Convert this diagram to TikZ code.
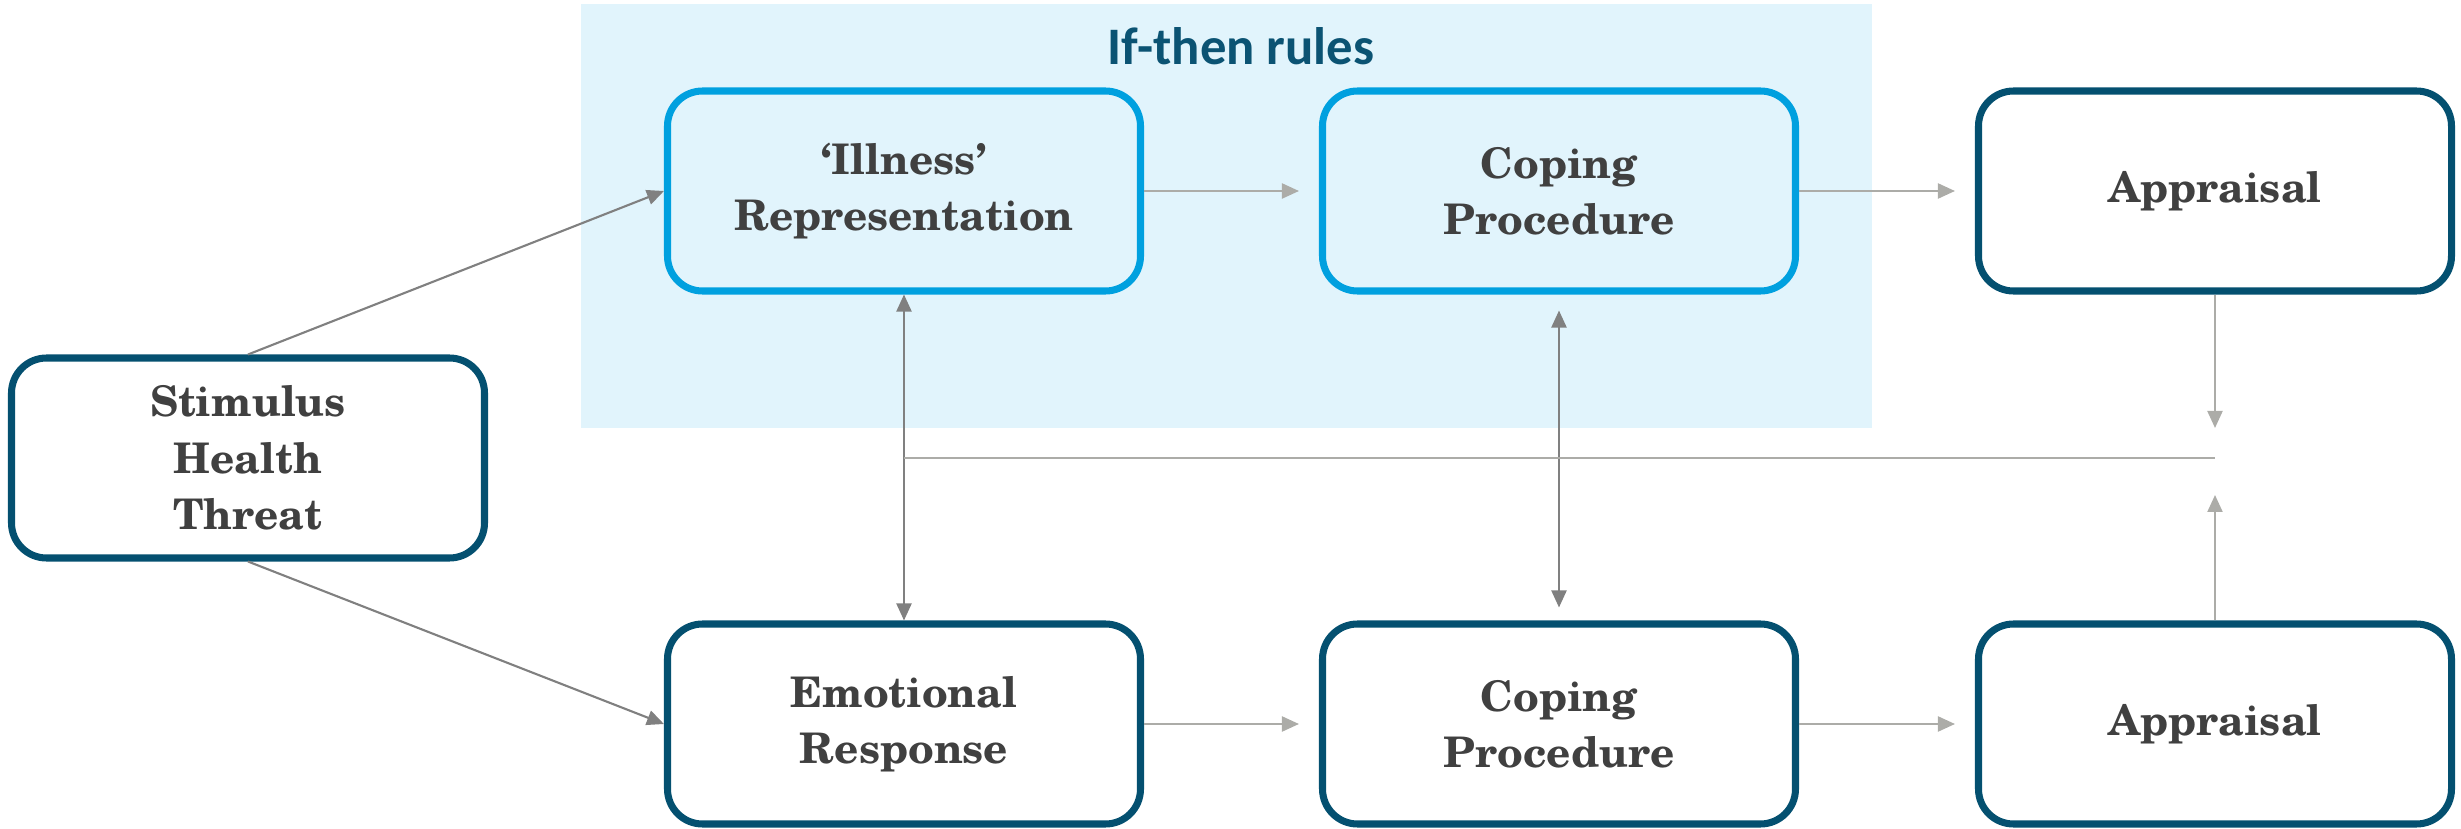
\documentclass[tikz,border=0pt]{standalone}
\usepackage{fontspec}
\setmainfont{texgyreschola}[Extension=.otf,UprightFont=*-regular,BoldFont=*-bold,ItalicFont=*-italic,BoldItalicFont=*-bolditalic]
\newfontfamily\rulesfont{Carlito}
\usetikzlibrary{arrows.meta}

\definecolor{boxblue}{RGB}{4,80,112}
\definecolor{ruleblue}{RGB}{0,160,223}
\definecolor{rulefill}{RGB}{225,244,252}
\definecolor{rulehead}{RGB}{11,83,115}
\definecolor{textgray}{RGB}{64,64,64}
\definecolor{linkdark}{RGB}{128,128,128}
\definecolor{linklight}{RGB}{172,172,168}

\tikzset{
  stagebox/.style={draw=boxblue, line width=2pt, rounded corners=0.35cm, fill=white,
    minimum width=4.73cm, minimum height=2.0cm, align=center, text=textgray,
    font=\bfseries\fontsize{12}{16}\selectfont},
  rulebox/.style={stagebox, draw=ruleblue, fill=rulefill},
  linkarrow/.style={draw=linkdark, line width=0.6pt, -{Triangle[length=0.17cm,width=0.15cm]}},
  bothlink/.style={linkarrow, {Triangle[length=0.17cm,width=0.15cm]}-{Triangle[length=0.17cm,width=0.15cm]}},
  flowarrow/.style={linkarrow, draw=linklight, shorten >=0.2cm},
}

\begin{document}
\begin{tikzpicture}

\useasboundingbox (0,0) rectangle (24.61,8.28);
\fill[rulefill] (5.81,4.00) rectangle (18.72,8.24);
\node[text=rulehead, font=\rulesfont\bfseries\fontsize{15}{17}\selectfont] (rules) at (12.41,7.82) {If-then rules};

\node[stagebox] (stim) at (2.48,3.70) {Stimulus\\Health\\Threat};
\node[rulebox] (illness) at (9.04,6.37) {‘Illness’\\Representation};
\node[rulebox] (copeA) at (15.59,6.37) {Coping\\Procedure};
\node[stagebox] (apprA) at (22.15,6.37) {Appraisal};
\node[stagebox] (emo) at (9.04,1.04) {Emotional\\Response};
\node[stagebox] (copeB) at (15.59,1.04) {Coping\\Procedure};
\node[stagebox] (apprB) at (22.15,1.04) {Appraisal};

\coordinate (jl) at (9.04,3.70);
\coordinate (jr) at (apprA |- jl);

\draw[linkarrow] (stim.north) -- (illness.west);
\draw[linkarrow] (stim.south) -- (emo.west);
\draw[flowarrow] (illness) -- (copeA);
\draw[flowarrow] (copeA) -- (apprA);
\draw[flowarrow] (emo) -- (copeB);
\draw[flowarrow] (copeB) -- (apprB);
\draw[bothlink] (illness) -- (emo);
\draw[bothlink, shorten <=0.16cm, shorten >=0.13cm] (copeA) -- (copeB);
\draw[draw=linklight, line width=0.6pt] (jl) -- (jr);
\draw[flowarrow, shorten >=0.30cm] (apprA) -- (jr);
\draw[flowarrow, shorten >=0.37cm] (apprB) -- (jr);

\end{tikzpicture}
\end{document}
